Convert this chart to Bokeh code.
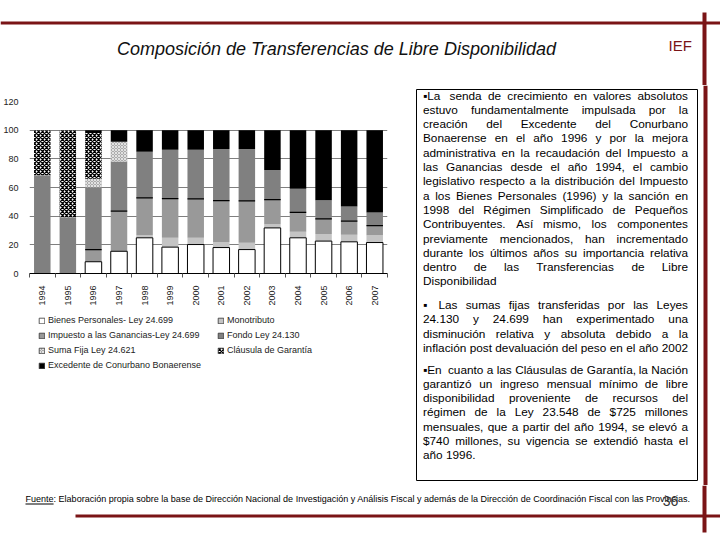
import unicodedata
import numpy as np
from bokeh.plotting import figure
from bokeh.layouts import column, row
from bokeh.models import Label, Legend, LegendItem, FixedTicker, Range1d
from bokeh.embed import file_html
from bokeh.resources import INLINE

# ---------------- data ----------------
years = ["1994", "1995", "1996", "1997", "1998", "1999", "2000",
         "2001", "2002", "2003", "2004", "2005", "2006", "2007"]
bienes = [0, 0, 8.2, 15.5, 24.9, 18.4, 20.2, 18.1, 16.7, 31.8, 24.9, 22.6, 22.1, 21.6]
monotributo = [0, 0, 0, 0, 1.7, 6.5, 4.7, 3.8, 4.7, 2.6, 4.3, 4.9, 5.0, 5.0]
ganancias = [0, 0, 8.5, 28.0, 26.1, 27.3, 27.1, 28.9, 29.2, 17.1, 13.4, 10.6, 9.4, 6.8]
fondo = [68.5, 39.3, 43.5, 34.6, 32.3, 34.2, 34.4, 36.0, 36.2, 20.7, 16.5, 13.0, 10.3, 9.2]
suma_fija = [0, 0, 5.9, 13.9, 0, 0, 0, 0, 0, 0, 0, 0, 0, 0]
clausula = [31.5, 60.7, 32.0, 0, 0, 0, 0, 0, 0, 0, 0, 0, 0, 0]
excedente = [0, 0, 1.9, 8.0, 15.0, 13.6, 13.6, 13.2, 13.2, 27.8, 40.9, 48.9, 53.2, 57.4]

series_names = ["Bienes Personales- Ley 24.699", "Monotributo",
                "Impuesto a las Ganancias-Ley 24.699", "Fondo Ley 24.130",
                "Suma Fija Ley 24.621", "Cláusula de Garantía",
                "Excedente de Conurbano Bonaerense"]
y_ticks = [0, 20, 40, 60, 80, 100, 120]

title_text = "Composición de Transferencias de Libre Disponibilidad"
logo_text = "IEF"
page_number = "36"
source_label = "Fuente"
source_text = (": Elaboración propia sobre la base de Dirección Nacional de Investigación y "
               "Análisis Fiscal y además de la Dirección de Coordinación Fiscal con las Provincias.")

para1 = ["▪La senda de crecimiento en valores absolutos",
         "estuvo fundamentalmente impulsada por la",
         "creación del Excedente del Conurbano",
         "Bonaerense en el año 1996 y por la mejora",
         "administrativa en la recaudación del Impuesto a",
         "las Ganancias desde el año 1994, el cambio",
         "legislativo respecto a la distribución del Impuesto",
         "a los Bienes Personales (1996) y la sanción en",
         "1998 del Régimen Simplificado de Pequeños",
         "Contribuyentes. Así mismo, los componentes",
         "previamente mencionados, han incrementado",
         "durante los últimos años su importancia relativa",
         "dentro de las Transferencias de Libre",
         "Disponibilidad"]
para2 = ["▪ Las sumas fijas transferidas por las Leyes",
         "24.130 y 24.699 han experimentado una",
         "disminución relativa y absoluta debido a la",
         "inflación post devaluación del peso en el año 2002"]
para3 = ["▪En cuanto a las Cláusulas de Garantía, la Nación",
         "garantizó un ingreso mensual mínimo de libre",
         "disponibilidad proveniente de recursos del",
         "régimen de la Ley 23.548 de $725 millones",
         "mensuales, que a partir del año 1994, se elevó a",
         "$740 millones, su vigencia se extendió hasta el",
         "año 1996."]

# ---------------- helpers ----------------
FONT = "Liberation Sans"
RED = "#7a1416"
AW = {" ": 278, "a": 556, "b": 556, "c": 500, "d": 556, "e": 556, "f": 278, "g": 556,
      "h": 556, "i": 222, "j": 222, "k": 500, "l": 222, "m": 833, "n": 556, "o": 556,
      "p": 556, "q": 556, "r": 333, "s": 500, "t": 278, "u": 556, "v": 500, "w": 722,
      "x": 500, "y": 500, "z": 500, "A": 667, "B": 667, "C": 722, "D": 722, "E": 667,
      "F": 611, "G": 778, "H": 722, "I": 278, "J": 500, "K": 667, "L": 556, "M": 833,
      "N": 722, "O": 778, "P": 667, "Q": 778, "R": 722, "S": 667, "T": 611, "U": 722,
      "V": 667, "W": 944, "X": 667, "Y": 667, "Z": 611, ".": 278, ",": 278, "(": 333,
      ")": 333, "$": 556, "-": 333, ":": 278, "▪": 604}


def tw(s, size):
    tot = 0
    for ch in s:
        if ch.isdigit():
            tot += 556
            continue
        base = unicodedata.normalize("NFD", ch)[0]
        tot += AW.get(ch, AW.get(base, 556))
    return tot * size / 1000.0


def deco_fig(w, h):
    f = figure(width=w, height=h, x_range=Range1d(0, w), y_range=Range1d(h, 0),
               output_backend="svg", toolbar_location=None, min_border=0,
               x_axis_location=None, y_axis_location=None, title=None)
    f.xgrid.visible = False
    f.ygrid.visible = False
    f.outline_line_color = None
    f.background_fill_color = "white"
    f.border_fill_color = "white"
    return f


class Deco:
    def __init__(self, fig, px0, py0):
        self.f, self.px0, self.py0 = fig, px0, py0

    def box(self, left, right, top, bottom, color, fill=True, lw=1):
        if fill:
            self.f.quad(left=left - self.px0, right=right - self.px0, top=top - self.py0,
                        bottom=bottom - self.py0, fill_color=color, line_color=None)
        else:
            self.f.quad(left=left - self.px0, right=right - self.px0, top=top - self.py0,
                        bottom=bottom - self.py0, fill_color=None, line_color=color,
                        line_width=lw)

    def label(self, x, y, text, size, color="#000000", align="left", style="normal"):
        self.f.add_layout(Label(x=x - self.px0, y=y - self.py0, text=text,
                                text_font=FONT, text_font_size=f"{size}px", text_color=color,
                                text_align=align, text_baseline="middle",
                                text_font_style=style))


# page geometry in page pixels
PW, PH = 720, 540
HEAD_B = 85
MID_B = 485
SPLIT = 413
F_L, F_R, F_T, F_B = 28, 386, 101, 273     # chart frame
CHART_B = 309                             # bottom of chart figure (axis area)

# ---------------- header ----------------
head = deco_fig(PW, HEAD_B)
dh = Deco(head, 0, 0)
dh.box(0, PW, 21, 24, RED)
dh.box(702, 706, 12, HEAD_B, RED)
dh.label(336, 48, title_text, 18, "#111111", "center", "italic")
dh.label(668, 45, logo_text, 15, RED)

# ---------------- chart ----------------
p = figure(frame_width=F_R - F_L, frame_height=F_B - F_T, output_backend="svg",
           toolbar_location=None, x_range=Range1d(0.5, 14.5), y_range=Range1d(0, 120),
           title=None, min_border_left=F_L, min_border_right=SPLIT - F_R,
           min_border_top=F_T - HEAD_B, min_border_bottom=CHART_B - F_B)
p.outline_line_color = None
p.background_fill_color = "white"
p.border_fill_color = "white"

x = np.arange(1, len(years) + 1)
bw = 0.645
stack = [bienes, monotributo, ganancias, fondo, suma_fija, clausula, excedente]
arr = np.array(stack, dtype=float)
cum_top = np.cumsum(arr, axis=0)
cum_bot = cum_top - arr

styles = [
    dict(fill_color="white", line_color="black", line_width=1),
    dict(fill_color="#c4c4c4", line_color=None),
    dict(fill_color="#999999", line_color=None),
    dict(fill_color="#808080", line_color=None),
    dict(fill_color="#ababab", line_color=None, hatch_pattern="diagonal_cross",
         hatch_color="#e2e2e2", hatch_scale=3, hatch_weight=1),
    dict(fill_color="white", line_color=None, hatch_pattern="diagonal_cross",
         hatch_color="black", hatch_scale=4, hatch_weight=1.3),
    dict(fill_color="black", line_color=None),
]

for i in list(range(1, 7)) + [0]:
    p.vbar(x=x, bottom=cum_bot[i], top=cum_top[i], width=bw, **styles[i])

mask = arr[2] > 0
p.segment(x0=x[mask] - bw / 2, x1=x[mask] + bw / 2, y0=cum_top[2][mask], y1=cum_top[2][mask],
          line_color="black", line_width=1.2)

p.xgrid.visible = False
p.ygrid.grid_line_color = "#7f7f7f"
p.ygrid.grid_line_width = 1
p.ygrid.ticker = FixedTicker(ticks=y_ticks)

p.yaxis.ticker = FixedTicker(ticks=y_ticks)
p.yaxis.axis_line_color = None
p.yaxis.major_tick_line_color = None
p.yaxis.minor_tick_line_color = None
p.yaxis.major_label_standoff = 5
p.yaxis.major_label_text_font = FONT
p.yaxis.major_label_text_font_size = "9px"
p.yaxis.major_label_text_color = "#222222"

p.xaxis.ticker = FixedTicker(ticks=list(x), minor_ticks=list(np.arange(0.5, len(years) + 1, 1.0)))
p.xaxis.major_label_overrides = {int(i): y for i, y in zip(x, years)}
p.xaxis.major_label_orientation = np.pi / 2
p.xaxis.major_tick_line_color = None
p.xaxis.minor_tick_in = 0
p.xaxis.minor_tick_out = 4
p.xaxis.minor_tick_line_color = "#555555"
p.xaxis.axis_line_color = "black"
p.xaxis.major_label_standoff = 6
p.xaxis.major_label_text_font = FONT
p.xaxis.major_label_text_font_size = "9px"
p.xaxis.major_label_text_color = "#222222"

# ---------------- legend (own panel below the chart) ----------------
LEG_H = MID_B - CHART_B
ROW_H = 15
leg = deco_fig(SPLIT, LEG_H)
leg_renderers = []
for i in range(7):
    st = dict(styles[i])
    st["line_color"] = "#333333"
    st["line_width"] = 0.8
    # legend swatches only: zero-size proxy bars carrying each series' style
    leg_renderers.append(leg.vbar(x=[0], bottom=[0], top=[0], width=0, **st))
items = [LegendItem(label=n, renderers=[r]) for n, r in zip(series_names, leg_renderers)]
n_rows = (len(items) + 1) // 2
legend = Legend(items=items, orientation="horizontal", ncols=2,
                location=(9, LEG_H - (312.5 - CHART_B) - n_rows * ROW_H),
                label_text_font=FONT, label_text_font_size="9px", label_text_color="#222222",
                glyph_width=7, glyph_height=7, label_height=ROW_H, label_width=169,
                label_standoff=3, spacing=0, padding=0, margin=0,
                border_line_color=None, background_fill_alpha=0)
leg.add_layout(legend)

# ---------------- text box ----------------
txt = deco_fig(PW - SPLIT, MID_B - HEAD_B)
dt = Deco(txt, SPLIT, HEAD_B)
dt.box(415, 696, 89, 480, "black", fill=False, lw=1)
dt.box(702, 706, HEAD_B, MID_B, RED)

TS = 11.8
XL, XR = 421.5, 686.5
for lines, y0, dy in [(para1, 95.0, 14.3), (para2, 304.0, 14.5), (para3, 369.0, 14.25)]:
    for j, line in enumerate(lines):
        words = line.split(" ")
        widths = [tw(w, TS) for w in words]
        last = (j == len(lines) - 1) and lines is not para2
        if len(words) > 1 and not last:
            gap = (XR - XL - sum(widths)) / (len(words) - 1)
        else:
            gap = tw(" ", TS)
        xx = XL
        for w, wd in zip(words, widths):
            dt.label(xx, y0 + j * dy, w, TS)
            xx += wd + gap

# ---------------- footer ----------------
foot = deco_fig(PW, PH - MID_B)
df = Deco(foot, 0, MID_B)
df.box(702, 706, MID_B, 532, RED)
df.box(75, PW, 514, 517, RED)
full = source_label + source_text
FS = round(665.0 / tw(full, 1.0), 2)
fx = 25
df.label(fx, 498, source_label, FS)
df.label(fx + tw(source_label, FS), 498, source_text, FS)
df.box(fx, fx + tw(source_label, FS), 503, 504, "black")
df.label(670, 500, page_number, 14, "#333333", "center")

layout = column(head, row(column(p, leg), txt), foot)
open("out.html", "w").write(file_html(layout, INLINE))
